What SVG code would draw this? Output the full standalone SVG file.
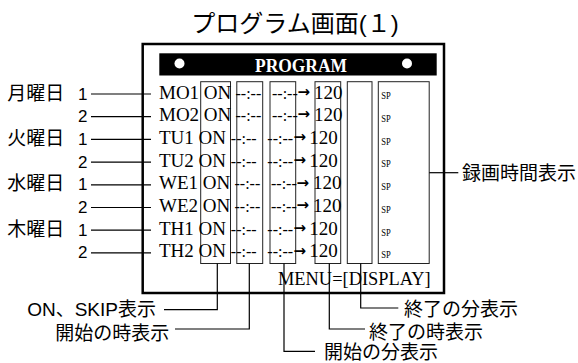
<svg xmlns="http://www.w3.org/2000/svg" width="578" height="363" viewBox="0 0 578 363">
<style>
.jp{font-family:"Liberation Sans","Noto Sans CJK JP",sans-serif;font-size:19px;fill:#000}
.dg{font-family:"Liberation Sans",sans-serif;font-size:17px;fill:#000}
.rw{font-family:"Liberation Serif",serif;font-size:19px;fill:#000}
.ds{font-size:16px}
.sp{font-family:"Liberation Serif",serif;font-size:11px;fill:#000}
.arr{font-family:"DejaVu Sans",sans-serif;font-weight:bold;font-size:15px}
.col{fill:none;stroke:#222;stroke-width:1}
.ln{fill:none;stroke:#000;stroke-width:1.2}
</style>
<rect x="0" y="0" width="578" height="363" fill="#fff"/>
<g id="title">
<text class="jp" x="295" y="31.5" text-anchor="middle" style="font-size:24px">プログラム画面(１)</text>
</g>
<g id="screen">
<rect x="142.7" y="44" width="301.3" height="249" fill="none" stroke="#000" stroke-width="2.5"/>
<rect x="159.3" y="53.3" width="277.4" height="22.2" fill="#000"/>
<circle cx="179.5" cy="63.5" r="5" fill="#fff"/>
<circle cx="407" cy="63.5" r="5" fill="#fff"/>
<text x="301" y="71.5" text-anchor="middle" textLength="92" lengthAdjust="spacingAndGlyphs" style="font-family:'Liberation Serif',serif;font-weight:bold;font-size:18px;fill:#fff">PROGRAM</text>
<text class="rw" x="278" y="284.7" style="font-size:18.4px">MENU=[DISPLAY]</text>
</g>
<g id="columns">
<rect class="col" x="200.7" y="81.7" width="29.8" height="181.8"/>
<rect class="col" x="236.8" y="81.7" width="25.9" height="181.8"/>
<rect class="col" x="270" y="81.7" width="25.7" height="181.8"/>
<rect class="col" x="315" y="81.7" width="25.7" height="181.8"/>
<rect class="col" x="347.3" y="81.7" width="24.7" height="181.8"/>
<rect class="col" x="378.3" y="81.7" width="50.9" height="181.8"/>
</g>
<g id="rows">
<g id="row-mo1">
<text class="rw" x="159" y="98.5">MO1 ON<tspan class="ds" x="235.5">--:--</tspan><tspan class="ds" x="272">--:--</tspan><tspan class="arr" x="297.5" dy="-1.8">→</tspan><tspan x="314" dy="1.8">120</tspan></text>
<text class="sp" x="381.3" y="99.3" textLength="9.5" lengthAdjust="spacingAndGlyphs">SP</text>
</g>
<g id="row-mo2">
<text class="rw" x="159" y="121.2">MO2 ON<tspan class="ds" x="235.5">--:--</tspan><tspan class="ds" x="272">--:--</tspan><tspan class="arr" x="297.5" dy="-1.8">→</tspan><tspan x="314" dy="1.8">120</tspan></text>
<text class="sp" x="381.3" y="122" textLength="9.5" lengthAdjust="spacingAndGlyphs">SP</text>
</g>
<g id="row-tu1">
<text class="rw" x="159" y="143.9">TU1 ON<tspan class="ds" x="230.8">--:--</tspan><tspan class="ds" x="267.3">--:--</tspan><tspan class="arr" x="293.5" dy="-1.8">→</tspan><tspan x="309.3" dy="1.8">120</tspan></text>
<text class="sp" x="381.3" y="144.7" textLength="9.5" lengthAdjust="spacingAndGlyphs">SP</text>
</g>
<g id="row-tu2">
<text class="rw" x="159" y="166.6">TU2 ON<tspan class="ds" x="230.8">--:--</tspan><tspan class="ds" x="267.3">--:--</tspan><tspan class="arr" x="293.5" dy="-1.8">→</tspan><tspan x="309.3" dy="1.8">120</tspan></text>
<text class="sp" x="381.3" y="167.4" textLength="9.5" lengthAdjust="spacingAndGlyphs">SP</text>
</g>
<g id="row-we1">
<text class="rw" x="159" y="189.3">WE1 ON<tspan class="ds" x="234.5">--:--</tspan><tspan class="ds" x="271">--:--</tspan><tspan class="arr" x="296.5" dy="-1.8">→</tspan><tspan x="313" dy="1.8">120</tspan></text>
<text class="sp" x="381.3" y="190.1" textLength="9.5" lengthAdjust="spacingAndGlyphs">SP</text>
</g>
<g id="row-we2">
<text class="rw" x="159" y="212">WE2 ON<tspan class="ds" x="234.5">--:--</tspan><tspan class="ds" x="271">--:--</tspan><tspan class="arr" x="296.5" dy="-1.8">→</tspan><tspan x="313" dy="1.8">120</tspan></text>
<text class="sp" x="381.3" y="212.8" textLength="9.5" lengthAdjust="spacingAndGlyphs">SP</text>
</g>
<g id="row-th1">
<text class="rw" x="159" y="234.7">TH1 ON<tspan class="ds" x="230.8">--:--</tspan><tspan class="ds" x="267.3">--:--</tspan><tspan class="arr" x="293.5" dy="-1.8">→</tspan><tspan x="309.3" dy="1.8">120</tspan></text>
<text class="sp" x="381.3" y="235.5" textLength="9.5" lengthAdjust="spacingAndGlyphs">SP</text>
</g>
<g id="row-th2">
<text class="rw" x="159" y="257.4">TH2 ON<tspan class="ds" x="230.8">--:--</tspan><tspan class="ds" x="267.3">--:--</tspan><tspan class="arr" x="293.5" dy="-1.8">→</tspan><tspan x="309.3" dy="1.8">120</tspan></text>
<text class="sp" x="381.3" y="258.2" textLength="9.5" lengthAdjust="spacingAndGlyphs">SP</text>
</g>
</g>
<g id="day-labels">
<text class="jp" x="7.3" y="99.6">月曜日</text>
<text class="jp" x="7.3" y="145">火曜日</text>
<text class="jp" x="7.3" y="190.4">水曜日</text>
<text class="jp" x="7.3" y="235.8">木曜日</text>
<text class="dg" x="87.5" y="99.5" text-anchor="end">1</text>
<text class="dg" x="87.5" y="122.2" text-anchor="end">2</text>
<text class="dg" x="87.5" y="144.9" text-anchor="end">1</text>
<text class="dg" x="87.5" y="167.6" text-anchor="end">2</text>
<text class="dg" x="87.5" y="190.3" text-anchor="end">1</text>
<text class="dg" x="87.5" y="213" text-anchor="end">2</text>
<text class="dg" x="87.5" y="235.7" text-anchor="end">1</text>
<text class="dg" x="87.5" y="258.4" text-anchor="end">2</text>
</g>
<g id="callout-labels">
<text class="jp" x="462" y="180.2">録画時間表示</text>
<text class="jp" x="156" y="316.3" text-anchor="end">ON、SKIP表示</text>
<text class="jp" x="169.3" y="340.2" text-anchor="end">開始の時表示</text>
<text class="jp" x="324" y="359">開始の分表示</text>
<text class="jp" x="369" y="338.6">終了の時表示</text>
<text class="jp" x="404" y="316">終了の分表示</text>
</g>
<g id="connectors">
<line class="ln" x1="91" y1="94" x2="151" y2="94"/>
<line class="ln" x1="91" y1="116.7" x2="151" y2="116.7"/>
<line class="ln" x1="91" y1="139.4" x2="151" y2="139.4"/>
<line class="ln" x1="91" y1="162.1" x2="151" y2="162.1"/>
<line class="ln" x1="91" y1="184.8" x2="151" y2="184.8"/>
<line class="ln" x1="91" y1="207.5" x2="151" y2="207.5"/>
<line class="ln" x1="91" y1="230.2" x2="151" y2="230.2"/>
<line class="ln" x1="91" y1="252.9" x2="151" y2="252.9"/>
<line class="ln" x1="429.2" y1="172.7" x2="458.3" y2="172.7"/>
<polyline class="ln" points="164,309.7 217.3,309.7 217.3,263.5"/>
<polyline class="ln" points="175,329 249.3,329 249.3,263.5"/>
<polyline class="ln" points="284,263.5 284,351.3 315,351.3"/>
<polyline class="ln" points="329.3,263.5 329.3,329 365,329"/>
<polyline class="ln" points="360.7,263.5 360.7,308 398.3,308"/>
</g>
</svg>
